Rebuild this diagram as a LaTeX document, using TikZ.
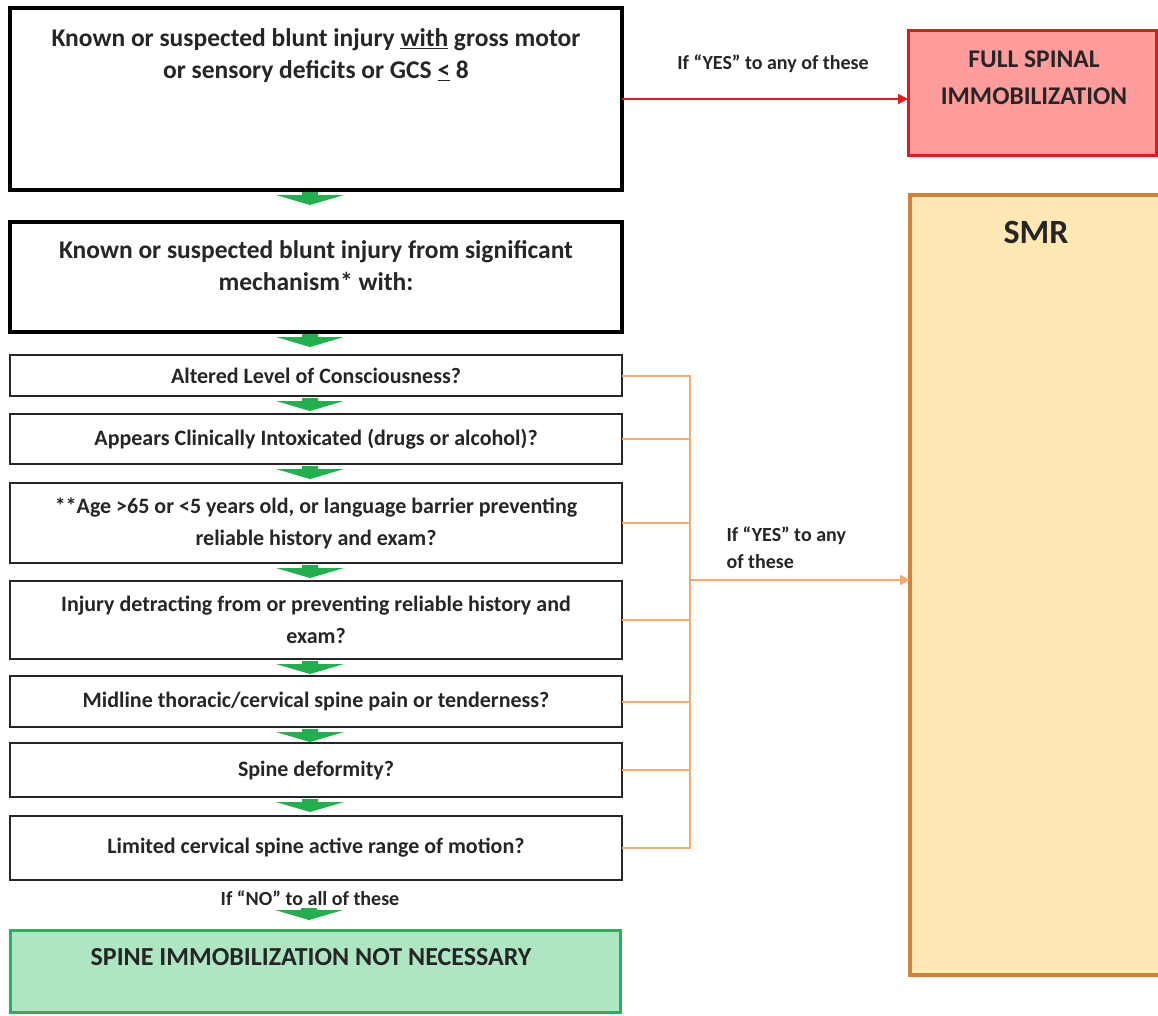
\documentclass[tikz,border=0pt]{standalone}
\usepackage{fontspec}
\setmainfont{Carlito}
\usetikzlibrary{arrows.meta, positioning, calc}
\definecolor{SafeEdge}{HTML}{2BAE5C}
\definecolor{SafeFill}{HTML}{AEE6C4}
\definecolor{FlowGreen}{HTML}{22B04F}
\definecolor{AlarmRed}{HTML}{E01B1B}
\definecolor{AlarmFill}{HTML}{FF9C9C}
\definecolor{SmrEdge}{HTML}{D37F35}
\definecolor{SmrFill}{HTML}{FFE8B3}
\definecolor{BusOrange}{HTML}{F2AA70}
\definecolor{Ink}{HTML}{262626}

\begin{document}
\begin{tikzpicture}[
    x=1pt, y=1pt,
    bigbox/.style={rectangle, draw=black, line width=4pt, minimum width=612pt, outer sep=0pt},
    qbox/.style={rectangle, draw=Ink, line width=2.5pt, minimum width=612pt, outer sep=0pt,
                 align=center, text=Ink, font=\fontsize{22}{32}\selectfont\bfseries},
    bigtext/.style={align=center, text=Ink, font=\fontsize{25.5}{32}\selectfont\bfseries},
    lbl/.style={text=Ink, font=\fontsize{20}{27}\selectfont\bfseries},
    busline/.style={draw=BusOrange, line width=2pt}
]
    \useasboundingbox[fill=white] (0,0) rectangle (1158,-1015);

    % Gross deficits
    \node[bigbox, minimum height=182pt] (q1) at (316,-99) {};
    \node[bigtext] (q1text) at (316,-56)
        {Known or suspected blunt injury \underline{with} gross motor\\or sensory deficits or GCS \underline{<} 8};

    % Significant mechanism
    \node[bigbox, minimum height=110pt, below=32pt of q1] (q2) {};
    \node[bigtext] (q2text) at ([yshift=-44pt]q2.north)
        {Known or suspected blunt injury from significant\\mechanism* with:};

    % Questions
    \node[qbox, minimum height=41pt, below=23pt of q2] (q3) {Altered Level of Consciousness?};
    \node[qbox, minimum height=50pt, below=18pt of q3] (q4) {Appears Clinically Intoxicated (drugs or alcohol)?};
    \node[qbox, minimum height=80pt, below=19pt of q4] (q5)
        {**Age >65 or <5 years old, or language barrier preventing\\reliable history and exam?};
    \node[qbox, minimum height=78pt, below=18pt of q5] (q6)
        {Injury detracting from or preventing reliable history and\\exam?};
    \node[qbox, minimum height=51pt, below=17pt of q6] (q7) {Midline thoracic/cervical spine pain or tenderness?};
    \node[qbox, minimum height=54pt, below=16pt of q7] (q8) {Spine deformity?};
    \node[qbox, minimum height=64pt, below=19pt of q8] (q9) {Limited cervical spine active range of motion?};

    % No to all
    \node[rectangle, draw=SafeEdge, fill=SafeFill, line width=3pt, minimum width=610pt,
          minimum height=82pt, outer sep=0pt] (clear) at (315,-971) {};
    \node[text=Ink, font=\fontsize{26}{30}\selectfont\bfseries] (cleartext) at (311,-957)
        {SPINE IMMOBILIZATION NOT NECESSARY};
    \node[lbl] (noall) at (310,-898) {If “NO” to all of these};

    % Full immobilization
    \node[rectangle, draw=AlarmRed, fill=AlarmFill, line width=3pt, minimum width=248pt,
          minimum height=125pt, outer sep=0pt] (full) at (1032,-92.5) {};
    \node[align=center, text=Ink, font=\fontsize{25.5}{37}\selectfont\bfseries] (fulltext)
        at (1034,-78) {FULL SPINAL\\IMMOBILIZATION};
    \node[lbl] (yesfull) at (773,-64) {If “YES” to any of these};

    % SMR
    \node[rectangle, draw=SmrEdge, fill=SmrFill, line width=3.5pt, minimum width=252pt,
          minimum height=780pt, outer sep=0pt] (smr) at (1036,-585) {};
    \node[text=Ink, font=\fontsize{34}{40}\selectfont\bfseries] (smrtext) at (1036,-232) {SMR};
    \node[lbl, align=left, anchor=west] (yessmr) at (723,-548) {If “YES” to any\\of these};

    % green flow arrows
    \foreach \b in {q1,q2,q3,q4,q5,q6,q7,q8}
        \fill[FlowGreen] ([xshift=-6pt]\b.south) ++(-8,-2) -- ++(16,0) -- ++(0,-3) -- ++(26,0)
            -- ++(-34,-10) -- ++(-34,10) -- ++(26,0) -- cycle;
    \fill[FlowGreen] ([xshift=-6pt,yshift=22pt]clear.north) ++(-8,0) -- ++(16,0) -- ++(0,-2)
        -- ++(26,0) -- ++(-34,-10) -- ++(-34,10) -- ++(26,0) -- cycle;

    % connectors
    \draw[AlarmRed, line width=2pt, -{Triangle[length=10pt,width=10pt]}] (q1.east) -- (q1.east -| full.west);
    \coordinate (bus) at (690,-580);
    \draw[busline] (q3.east) -- (q3.east -| bus) -- (q9.east -| bus) -- (q9.east);
    \foreach \b in {q4,q5,q6,q7,q8}
        \draw[busline] (\b.east) -- (\b.east -| bus);
    \draw[busline, -{Triangle[length=10pt,width=10pt]}] (bus) -- (bus -| smr.west);
\end{tikzpicture}
\end{document}
